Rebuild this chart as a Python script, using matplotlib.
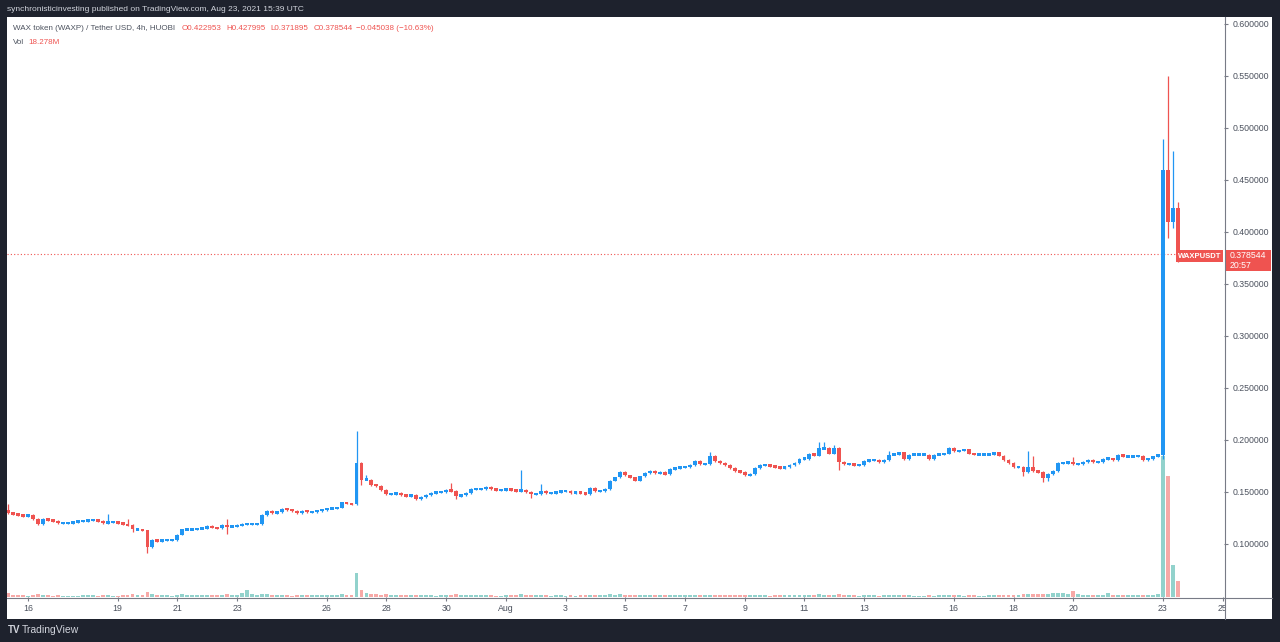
import matplotlib
matplotlib.use("Agg")
import matplotlib.pyplot as plt
import matplotlib.dates as mdates
from matplotlib.patches import Rectangle
from matplotlib.lines import Line2D
import numpy as np
import pandas as pd

plt.rcParams['font.family'] = ['Liberation Sans', 'DejaVu Sans']

# --- data (WAXP/USDT, 4h candles, HUOBI) ---
first_candle = '2021-07-15 08:00'
first_open = 0.133

closes = [
    0.130, 0.129, 0.128, 0.127, 0.128, 0.124, 0.119, 0.124, 0.123, 0.122, 0.120, 0.120,
    0.120, 0.121, 0.122, 0.122, 0.123, 0.123, 0.122, 0.120, 0.121, 0.121, 0.120, 0.119,
    0.118, 0.114, 0.114, 0.113, 0.097, 0.104, 0.103, 0.104, 0.104, 0.104, 0.109, 0.114,
    0.114, 0.114, 0.115, 0.115, 0.117, 0.116, 0.115, 0.118, 0.117, 0.117, 0.118, 0.119,
    0.119, 0.119, 0.119, 0.128, 0.132, 0.130, 0.131, 0.134, 0.133, 0.132, 0.130, 0.132,
    0.131, 0.131, 0.132, 0.133, 0.134, 0.134, 0.135, 0.140, 0.139, 0.138, 0.178, 0.162,
    0.162, 0.157, 0.156, 0.152, 0.148, 0.148, 0.149, 0.147, 0.146, 0.147, 0.143, 0.145,
    0.147, 0.149, 0.150, 0.150, 0.152, 0.151, 0.146, 0.147, 0.149, 0.153, 0.153, 0.153,
    0.155, 0.153, 0.152, 0.152, 0.153, 0.152, 0.151, 0.152, 0.150, 0.148, 0.148, 0.151,
    0.149, 0.149, 0.150, 0.151, 0.151, 0.149, 0.150, 0.149, 0.148, 0.154, 0.151, 0.151,
    0.153, 0.161, 0.164, 0.169, 0.166, 0.164, 0.161, 0.165, 0.168, 0.170, 0.168, 0.169,
    0.167, 0.172, 0.173, 0.174, 0.174, 0.176, 0.180, 0.177, 0.177, 0.185, 0.180, 0.178,
    0.176, 0.173, 0.170, 0.169, 0.166, 0.167, 0.173, 0.176, 0.176, 0.175, 0.174, 0.173,
    0.174, 0.176, 0.178, 0.182, 0.182, 0.187, 0.185, 0.192, 0.192, 0.187, 0.192, 0.179,
    0.177, 0.177, 0.176, 0.176, 0.180, 0.181, 0.181, 0.179, 0.181, 0.186, 0.186, 0.188,
    0.182, 0.186, 0.186, 0.186, 0.186, 0.182, 0.186, 0.186, 0.187, 0.192, 0.189, 0.190,
    0.191, 0.187, 0.186, 0.186, 0.186, 0.186, 0.188, 0.185, 0.181, 0.178, 0.174, 0.174,
    0.169, 0.174, 0.170, 0.169, 0.163, 0.167, 0.170, 0.178, 0.178, 0.179, 0.177, 0.177,
    0.179, 0.181, 0.179, 0.179, 0.182, 0.182, 0.181, 0.186, 0.184, 0.184, 0.184, 0.185,
    0.181, 0.182, 0.184, 0.186, 0.460, 0.410, 0.422953, 0.378544,
]

# visible wicks beyond the body (candle index -> price)
wick_high = {0: 0.138, 20: 0.128, 24: 0.123, 44: 0.123, 70: 0.208, 72: 0.166,
             89: 0.158, 103: 0.170, 107: 0.157, 141: 0.188, 163: 0.197, 164: 0.197,
             166: 0.194, 177: 0.189, 205: 0.189, 206: 0.184, 214: 0.183,
             232: 0.489, 233: 0.549, 234: 0.477, 235: 0.427995}
wick_low = {25: 0.112, 28: 0.092, 44: 0.110, 71: 0.158, 90: 0.144, 105: 0.145,
            167: 0.172, 204: 0.166, 208: 0.160, 209: 0.161,
            232: 0.183, 233: 0.395, 234: 0.405, 235: 0.371895}

# volume in millions
volumes = [
    4.5, 2.8, 2.2, 1.8, 1.6, 2.4, 3.2, 2.6, 1.8, 1.6, 1.9, 1.5,
    1.4, 1.6, 1.5, 1.8, 2.0, 1.8, 1.5, 2.2, 2.6, 1.7, 1.6, 1.9,
    2.3, 2.9, 2.0, 2.4, 6.0, 3.8, 2.6, 2.0, 1.8, 1.7, 2.8, 3.4,
    2.4, 1.9, 1.8, 2.0, 2.4, 1.9, 1.8, 2.6, 3.2, 2.2, 2.8, 4.2,
    8.0, 3.6, 2.2, 3.5, 3.0, 2.0, 1.8, 2.5, 2.0, 1.7, 2.2, 2.1,
    2.0, 1.8, 1.9, 2.2, 2.4, 2.0, 2.1, 3.2, 2.6, 2.4, 27.0, 8.0,
    5.0, 3.8, 3.0, 2.6, 3.2, 2.4, 2.2, 2.0, 1.9, 2.1, 2.6, 2.0,
    1.8, 1.9, 1.6, 2.0, 2.4, 2.6, 3.0, 2.0, 1.9, 2.4, 2.0, 1.8,
    2.2, 1.9, 1.7, 1.6, 1.8, 1.9, 2.0, 3.4, 2.4, 2.0, 1.8, 2.2,
    1.9, 1.7, 1.8, 1.9, 1.6, 1.8, 1.7, 1.9, 2.0, 2.6, 2.2, 1.8,
    2.0, 3.4, 2.8, 3.0, 2.6, 2.2, 2.4, 2.2, 2.0, 2.1, 1.9, 1.8,
    1.9, 2.2, 2.0, 1.8, 1.9, 2.0, 2.4, 2.2, 1.9, 2.8, 2.5, 2.2,
    2.1, 2.2, 2.4, 2.0, 2.6, 2.0, 2.2, 2.0, 1.8, 1.7, 1.8, 1.9,
    1.8, 1.9, 2.0, 2.2, 2.1, 2.6, 2.2, 3.6, 2.8, 2.4, 2.6, 3.6,
    2.4, 2.0, 1.8, 1.7, 1.9, 2.0, 1.8, 1.7, 1.8, 2.2, 2.0, 1.9,
    2.0, 1.8, 1.7, 1.6, 1.7, 1.8, 1.7, 1.9, 1.8, 2.2, 2.0, 1.8,
    1.7, 1.8, 1.9, 1.7, 1.6, 1.8, 1.9, 2.0, 2.2, 2.4, 2.6, 2.8,
    3.4, 3.0, 3.6, 3.0, 3.4, 3.0, 4.2, 4.6, 4.4, 3.0, 6.5, 3.6,
    2.8, 2.2, 2.0, 2.4, 2.2, 4.0, 2.6, 2.2, 2.0, 2.1, 2.0, 2.2,
    2.6, 2.4, 2.2, 3.0, 161.0, 138.0, 36.0, 18.278,
]

tick_dates = ['2021-07-16', '2021-07-19', '2021-07-21', '2021-07-23', '2021-07-26',
              '2021-07-28', '2021-07-30', '2021-08-01', '2021-08-03', '2021-08-05',
              '2021-08-07', '2021-08-09', '2021-08-11', '2021-08-13', '2021-08-16',
              '2021-08-18', '2021-08-20', '2021-08-23', '2021-08-25']
tick_labels = ['16', '19', '21', '23', '26', '28', '30', 'Aug', '3', '5',
               '7', '9', '11', '13', '16', '18', '20', '23', '25']
price_ticks = [0.10, 0.15, 0.20, 0.25, 0.30, 0.35, 0.40, 0.45, 0.50, 0.55, 0.60]

last_price = 0.378544

# --- colours ---
BG = '#1e222d'
UP = '#2196f3'
DOWN = '#ef5350'
VOL_UP = '#92d2cc'
VOL_DOWN = '#f7a9a7'
AXIS = '#787b86'
TXT = '#4c525e'

W, H = 1280, 642


def fx(px):
    return px / W


def fy(py):
    return 1 - py / H


closes = np.array(closes)
opens = np.concatenate([[first_open], closes[:-1]])
opens[-1] = 0.422953
highs = np.maximum(opens, closes)
lows = np.minimum(opens, closes)
for i, v in wick_high.items():
    highs[i] = v
for i, v in wick_low.items():
    lows[i] = v
up = closes >= opens

times = pd.date_range(first_candle, periods=len(closes), freq='4h')
x = mdates.date2num(times)
cw = 4 / 24 * 0.78

fig = plt.figure(figsize=(W / 100, H / 100), dpi=100)
fig.patch.set_facecolor(BG)
fig.patches.append(Rectangle((fx(7), fy(619)), fx(1272 - 7), (619 - 17) / H,
                             transform=fig.transFigure, facecolor='white',
                             edgecolor='none', zorder=-1))

rect = [fx(7), fy(597), fx(1224 - 7), (597 - 17) / H]
vax = fig.add_axes(rect)
vax.set_facecolor('white')
vcol = np.where(up, VOL_UP, VOL_DOWN)
vax.bar(x, volumes, width=cw, color=vcol, linewidth=0)
vax.set_ylim(0, 662)
vax.set_yticks([])
for s in vax.spines.values():
    s.set_visible(False)

ax = vax.twinx()
col = np.where(up, UP, DOWN)
ax.vlines(x, lows - 0.0008, highs + 0.0008, colors=col, linewidth=0.9, zorder=2)
body = np.maximum(np.abs(closes - opens), 0.0024)
mid = (opens + closes) / 2
ax.bar(x, body, bottom=mid - body / 2, width=cw, color=col,
       linewidth=0, zorder=3)
ax.axhline(last_price, color=DOWN, linestyle=(0, (1, 2)), linewidth=0.8, zorder=1)

xl = mdates.date2num(pd.Timestamp('2021-07-15 07:07'))
xr = mdates.date2num(pd.Timestamp('2021-08-25 01:10'))
vax.set_xlim(xl, xr)
ax.set_ylim(0.04904, 0.6067)

for s in ['top', 'left', 'right', 'bottom']:
    ax.spines[s].set_visible(False)

ax.set_yticks(price_ticks)
ax.set_yticklabels(['%.6f' % v for v in price_ticks])
ax.tick_params(axis='y', which='both', right=True, left=False, direction='out',
               length=3, width=0.8, color=AXIS, labelsize=6.3, labelcolor=TXT, pad=3)
vax.set_xticks(mdates.date2num(pd.to_datetime(tick_dates)))
vax.set_xticklabels(tick_labels)
vax.tick_params(axis='x', direction='out', length=3, width=0.8, color=AXIS,
                labelsize=6.3, labelcolor=TXT, pad=2)
vax.tick_params(axis='y', left=False, right=False)

# cover for the clipped "25" and the axis borders
fig.patches.append(Rectangle((fx(1225), fy(619)), fx(47), 22 / H, transform=fig.transFigure,
                             facecolor='white', edgecolor='none', zorder=5))
fig.lines.append(Line2D([fx(7), fx(1272)], [fy(597.5), fy(597.5)], transform=fig.transFigure,
                        color=AXIS, linewidth=0.8, zorder=6))
fig.lines.append(Line2D([fx(1224.5), fx(1224.5)], [fy(17), fy(619)], transform=fig.transFigure,
                        color=AXIS, linewidth=0.8, zorder=6))

# price labels on the right scale
trans = ax.get_yaxis_transform()
ppx = 1 / 1040
ax.add_patch(Rectangle((1.0005, last_price - 17 * ppx), 46 / 1217, 21.5 * ppx,
                       transform=trans, facecolor=DOWN, edgecolor='none',
                       clip_on=False, zorder=10))
ax.text(1.0005 + 5 / 1217, last_price - 1 * ppx, '%.6f' % last_price, transform=trans,
        color='white', fontsize=6.3, va='center', ha='left', clip_on=False, zorder=11)
ax.text(1.0005 + 5 / 1217, last_price - 11 * ppx, '20:57', transform=trans,
        color='white', fontsize=6.3, va='center', ha='left', clip_on=False, zorder=11)
ax.add_patch(Rectangle((1 - 48 / 1217, last_price - 8 * ppx), 47 / 1217, 12 * ppx,
                       transform=trans, facecolor=DOWN, edgecolor='none',
                       clip_on=False, zorder=10))
ax.text(1 - 24.5 / 1217, last_price - 2 * ppx, 'WAXPUSDT', transform=trans,
        color='white', fontsize=5.5, fontweight='bold', va='center', ha='center',
        clip_on=False, zorder=11)

# header and legend
renderer = fig.canvas.get_renderer()


def chain(px, py, parts, size):
    """Write text pieces one after another on a row, starting at pixel px."""
    for s, c, gap in parts:
        t = fig.text(fx(px), fy(py), s, color=c, fontsize=size, va='center', ha='left')
        px = t.get_window_extent(renderer).x1 + gap


fig.text(fx(7), fy(9.5), 'synchronisticinvesting published on TradingView.com, Aug 23, 2021 15:39 UTC',
         color='#d1d4dc', fontsize=6.0, va='center', ha='left')
chain(13, 29, [('WAX token (WAXP) / Tether USD, 4h, HUOBI', TXT, 6),
               ('O0.422953', DOWN, 5), ('H0.427995', DOWN, 5), ('L0.371895', DOWN, 5),
               ('C0.378544', DOWN, 4), ('\u22120.045038 (\u221210.63%)', DOWN, 0)], 5.8)
chain(13, 43, [('Vol', TXT, 4), ('18.278M', DOWN, 0)], 5.8)

# footer logo
fig.text(fx(8), fy(630), 'TV', color='#d1d4dc', fontsize=7, fontweight='bold',
         va='center', ha='left')
fig.text(fx(22), fy(630), 'TradingView', color='#d1d4dc', fontsize=7.5,
         va='center', ha='left')

fig.savefig('out.png', dpi=100, facecolor=BG)
